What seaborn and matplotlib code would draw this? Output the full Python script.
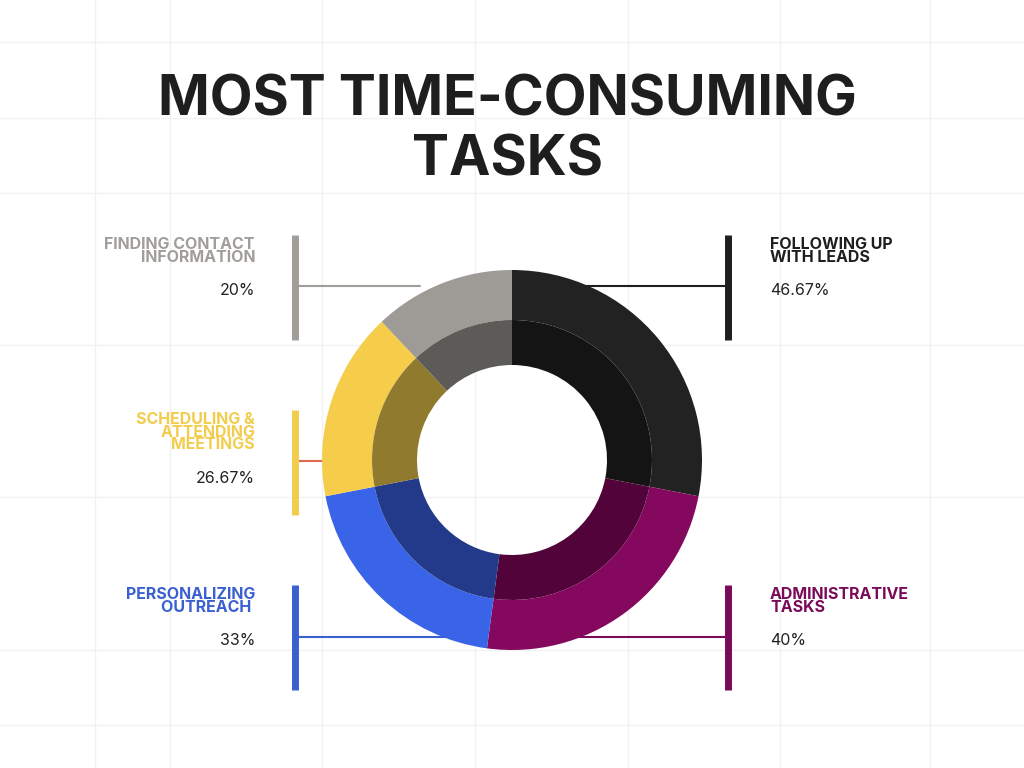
import matplotlib.pyplot as plt
import seaborn as sns

# data
tasks = ["FOLLOWING UP\nWITH LEADS", "ADMINISTRATIVE\nTASKS", "PERSONALIZING\nOUTREACH ",
         "SCHEDULING &\nATTENDING\nMEETINGS", "FINDING CONTACT\nINFORMATION"]
values = [46.67, 40, 33, 26.67, 20]
pct_labels = ["46.67%", "40%", "33%", "26.67%", "20%"]
outer_colors = ["#222222", "#85085f", "#3a64e8", "#f5cd4a", "#9e9b96"]
inner_colors = ["#141414", "#52033a", "#233a8a", "#8f7a2e", "#5d5b57"]
label_colors = ["#1e1e1e", "#7a0b5a", "#3a5fd0", "#f2cd4d", "#a19e99"]

sns.set_theme(style="white")
plt.rcParams['font.family'] = ['Inter', 'DejaVu Sans']

fig = plt.figure(figsize=(10.24, 7.68), dpi=100)
ax = fig.add_axes([0, 0, 1, 1])

# faint background grid
for x in [95, 170, 322, 475, 628, 780, 930]:
    ax.plot([x, x], [0, 768], color="#f2f2f2", lw=1, zorder=0)
for y in [42, 118, 193, 345, 497, 650, 725]:
    ax.plot([0, 1024], [y, y], color="#f2f2f2", lw=1, zorder=0)

# y axis points down, so counterclock in data = clockwise on screen
cx, cy = 512, 460
ax.pie(values, colors=outer_colors, radius=190, center=(cx, cy), startangle=-90,
       counterclock=True, wedgeprops=dict(width=50, linewidth=0), frame=True)
ax.pie(values, colors=inner_colors, radius=140, center=(cx, cy), startangle=-90,
       counterclock=True, wedgeprops=dict(width=45, linewidth=0), frame=True)

# label layout: (side, bar top, line y, line end x)
layout = [("R", 235, 286, 560), ("R", 585, 637, 570), ("L", 585, 637, 460),
          ("L", 410, 461, 322), ("L", 235, 286, 420)]
for (side, top, ly, lx), name, pct, col in zip(layout, tasks, pct_labels, label_colors):
    bx = 728 if side == "R" else 295
    ax.plot([bx, bx], [top, top + 105], color=col, lw=5, solid_capstyle="butt", zorder=3)
    lc = "#e06a50" if lx == 322 else col
    ax.plot([bx, lx], [ly, ly], color=lc, lw=1.5, zorder=0.5)
    tx = 770 if side == "R" else 255
    ha = "left" if side == "R" else "right"
    ax.text(tx, top + 2, name, ha=ha, va="top", fontsize=11.5, fontweight="bold",
            color=col, linespacing=0.8)
    nlines = name.count("\n") + 1
    ax.text(tx, top + 2 + nlines * 13 + 20, pct, ha=ha, va="top", fontsize=11.5,
            color="#222222")

ax.text(507, 100, "MOST TIME-CONSUMING", ha="center", va="center", fontsize=40,
        fontweight="bold", color="#1e1e1e")
ax.text(507, 160, "TASKS", ha="center", va="center", fontsize=40,
        fontweight="bold", color="#1e1e1e")

ax.set_xlim(0, 1024)
ax.set_ylim(768, 0)
ax.set_aspect("equal")
ax.axis("off")
fig.savefig("out.png", dpi=100, facecolor="white")
